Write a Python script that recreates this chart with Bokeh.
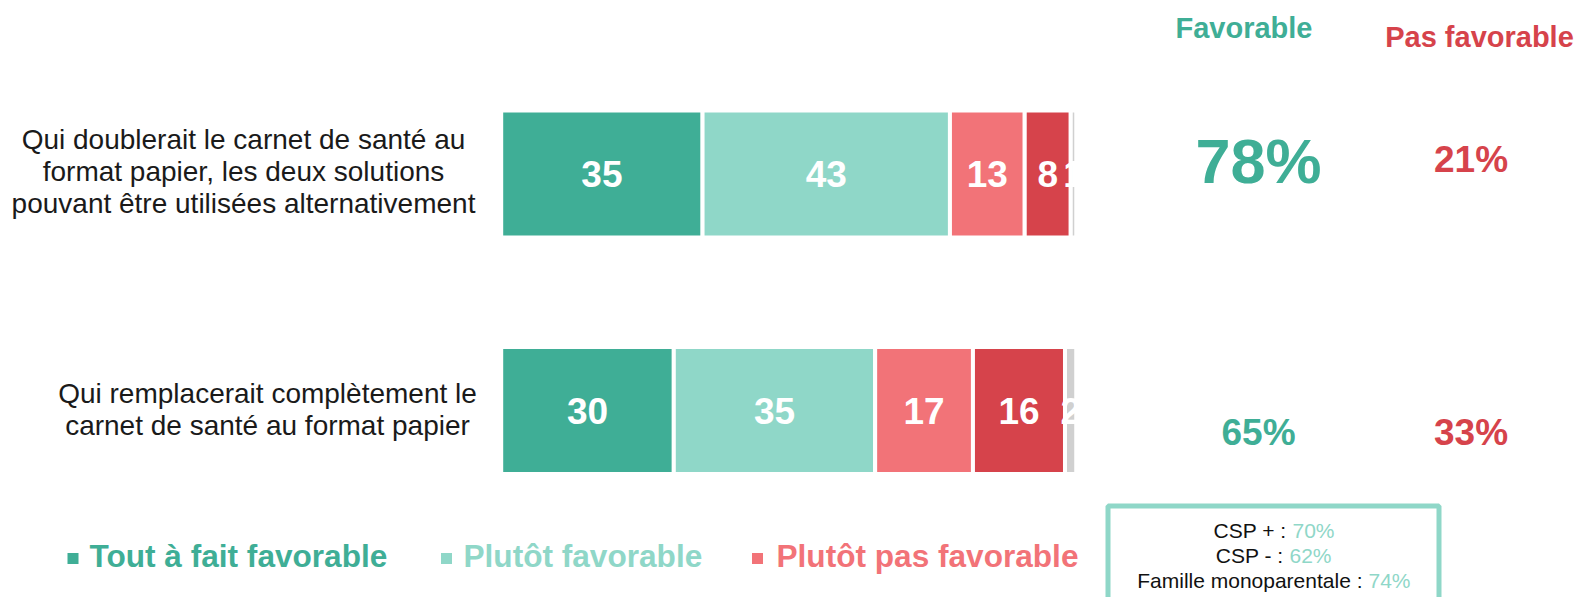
from bokeh.plotting import figure
from bokeh.models import ColumnDataSource, Range1d
from bokeh.core.properties import value
from bokeh.embed import file_html
from bokeh.resources import INLINE

# ---------------- data ----------------
categories = [
    "Qui doublerait le carnet de santé au\nformat papier, les deux solutions\npouvant être utilisées alternativement",
    "Qui remplacerait complètement le\ncarnet de santé au format papier",
]
series_names = ["Tout à fait favorable", "Plutôt favorable", "Plutôt pas favorable",
                "Pas du tout favorable", "Non réponse"]
tout_a_fait = [35, 30]
plutot_fav = [43, 35]
plutot_pas = [13, 17]
pas_du_tout = [8, 16]
non_reponse = [1, 2]
favorable_totals = [78, 65]
pas_favorable_totals = [21, 33]
csp_labels = ["CSP + :", "CSP - :", "Famille monoparentale :"]
csp_values = [70, 62, 74]

# ---------------- style ----------------
FONT = "Liberation Sans"
C_TAF = "#3FAE96"
C_PF = "#8FD7C8"
C_PPF = "#F27378"
C_PDT = "#D6434B"
C_NR = "#D0D0D0"
colors = [C_TAF, C_PF, C_PPF, C_PDT, C_NR]

W, H = 1574, 597
# pixel layout helpers (canvas starts at screenshot origin)
X0, S = 500.7, 5.753     # x of value 0, px per percentage point
Y0, R = 173.4, 236.6     # y of first row, px between rows


def X(px):
    return (px - X0) / S


def Y(py):
    return (py - Y0) / R


rows = list(range(len(categories)))
BAR_H = 127 / R

p = figure(width=W, height=H, output_backend="svg", toolbar_location=None,
           x_range=Range1d(X(0), X(W)), y_range=Range1d(Y(H), Y(0)),
           min_border=0, x_axis_location=None, y_axis_location=None)
p.grid.visible = False
p.outline_line_color = None
p.background_fill_color = "white"
p.border_fill_color = "white"

keys = ["taf", "pf", "ppf", "pdt", "nr"]
series = [tout_a_fait, plutot_fav, plutot_pas, pas_du_tout, non_reponse]
src = ColumnDataSource(dict(row=rows, **{k: v for k, v in zip(keys, series)}))
p.hbar_stack(keys, y="row", height=BAR_H, color=colors, source=src,
             line_color="white", line_width=4)

# segment value labels
lx, ly, lt = [], [], []
for i in rows:
    cum = 0
    for s in series:
        v = s[i]
        lx.append(cum + v / 2)
        ly.append(i)
        lt.append(str(v))
        cum += v
p.text(x=lx, y=ly, text=lt, text_font=value(FONT), text_font_style="bold",
       text_font_size="37px", text_color="white", text_align="center",
       text_baseline="middle")

# clip labels at end of bars
totals = [sum(s[i] for s in series) for i in rows]
p.quad(left=[t - 2 / S for t in totals], right=[t + 4 for t in totals],
       top=[r - 0.3 for r in rows], bottom=[r + 0.3 for r in rows],
       fill_color="white", line_color=None)

# category labels
p.text(x=[X(243)], y=[Y(171)], text=[categories[0]],
       text_font=value(FONT), text_font_size="28px", text_color="#1a1a1a",
       text_align="center", text_baseline="middle", text_line_height=1.03)
p.text(x=[X(267)], y=[Y(409)], text=[categories[1]],
       text_font=value(FONT), text_font_size="28px", text_color="#1a1a1a",
       text_align="center", text_baseline="middle", text_line_height=1.06)

# headers
p.text(x=[X(1243.5)], y=[Y(27)], text=["Favorable"], text_font=value(FONT),
       text_font_style="bold", text_font_size="29px", text_color=C_TAF,
       text_align="center", text_baseline="middle")
p.text(x=[X(1479)], y=[Y(36)], text=["Pas favorable"], text_font=value(FONT),
       text_font_style="bold", text_font_size="29px", text_color=C_PDT,
       text_align="center", text_baseline="middle")

# totals
fav_sizes = ["63px", "37px"]
fav_y = [Y(160), Y(431.5)]
for i in rows:
    p.text(x=[X(1258)], y=[fav_y[i]],
           text=[f"{favorable_totals[i]}%"], text_font=value(FONT),
           text_font_style="bold", text_font_size=fav_sizes[i], text_color=C_TAF,
           text_align="center", text_baseline="middle")
p.text(x=[X(1470.5)] * 2, y=[Y(159), Y(431.5)],
       text=[f"{v}%" for v in pas_favorable_totals], text_font=value(FONT),
       text_font_style="bold", text_font_size="37px", text_color=C_PDT,
       text_align="center", text_baseline="middle")

# legend
leg_sq_x = [72.5, 446, 757]
leg_tx_x = [89, 463, 776]
p.scatter(x=[X(v) for v in leg_sq_x], y=[Y(558)] * 3, marker="square", size=11,
          color=colors[:3], line_color=None)
for i in range(3):
    p.text(x=[X(leg_tx_x[i])], y=[Y(555)], text=[series_names[i]],
           text_font=value(FONT), text_font_style="bold", text_font_size="31.6px",
           text_color=colors[i], text_align="left", text_baseline="middle")

# CSP box
p.quad(left=[X(1107.5)], right=[X(1438.5)], top=[Y(505.5)], bottom=[Y(660)],
       fill_color=None, line_color=C_PF, line_width=5)
box_y = [530, 555, 580]
box_vx = [1292, 1289, 1368]
p.text(x=[X(v - 6) for v in box_vx], y=[Y(v) for v in box_y],
       text=csp_labels, text_font=value(FONT),
       text_font_size="21px", text_color="#111111", text_align="right",
       text_baseline="middle")
p.text(x=[X(v) for v in box_vx], y=[Y(v) for v in box_y],
       text=[f"{v}%" for v in csp_values], text_font=value(FONT),
       text_font_size="21px", text_color=C_PF, text_align="left",
       text_baseline="middle")

open("out.html", "w").write(file_html(p, INLINE))
